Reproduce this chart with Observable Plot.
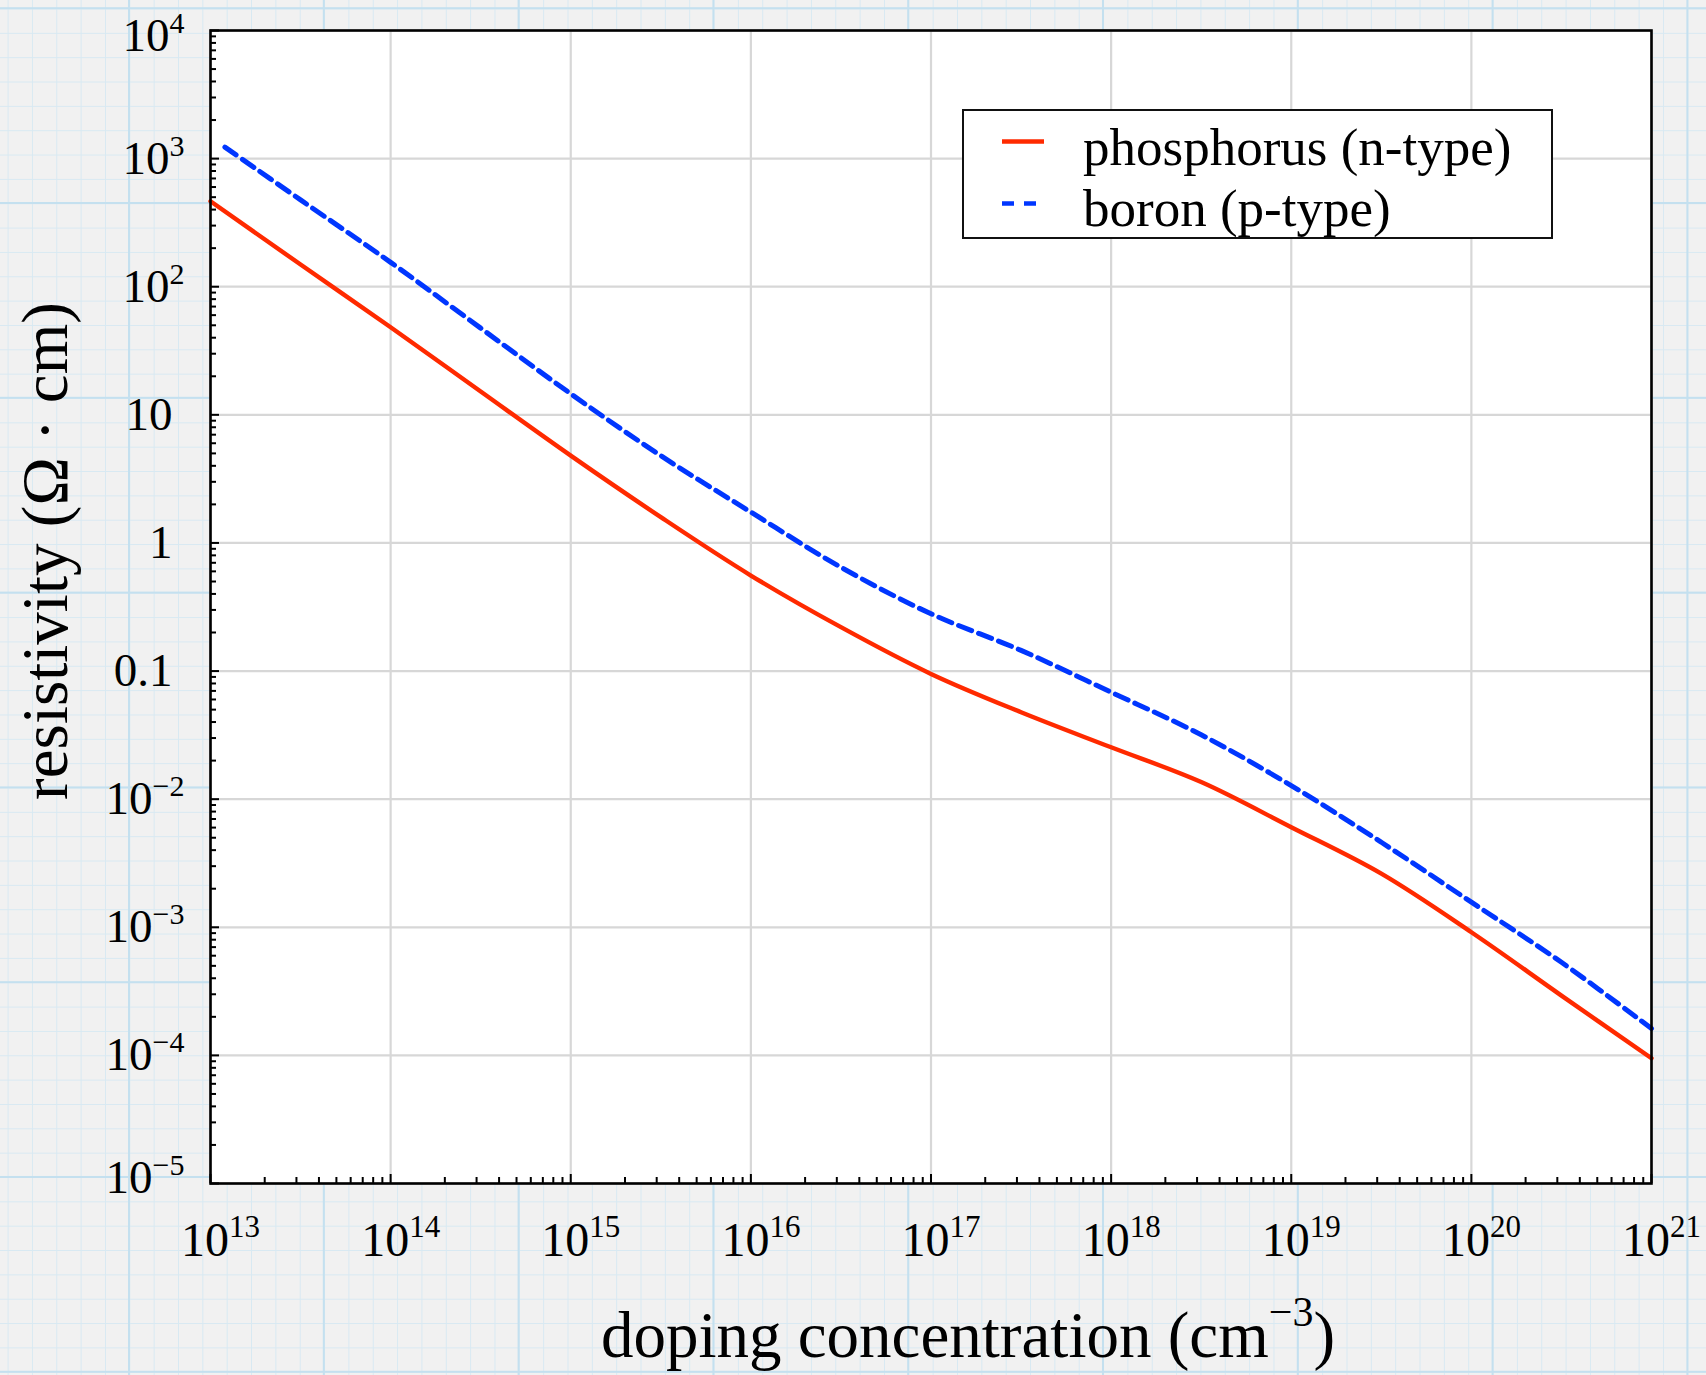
<!DOCTYPE html>
<html>
<head>
<meta charset="utf-8">
<script src="https://cdn.jsdelivr.net/npm/d3@7"></script>
<script src="https://cdn.jsdelivr.net/npm/@observablehq/plot@0.6"></script>
<style>
  html, body { margin: 0; padding: 0; }
  body {
    width: 1706px; height: 1375px; position: relative; overflow: hidden;
    background-color: #f1f1f1;
    background-image:
      linear-gradient(to right, #c4e0ef 2px, transparent 2px),
      linear-gradient(to bottom, #c4e0ef 2px, transparent 2px),
      linear-gradient(to right, #d8e9f2 1px, transparent 1px),
      linear-gradient(to bottom, #d8e9f2 1px, transparent 1px);
    background-size: 194.8px 194.8px, 194.8px 194.8px, 24.35px 24.35px, 24.35px 24.35px;
    background-position: 128px 0, 0 202px, 7.6px 0, 0 8.5px;
  }
  #chart { position: absolute; left: 0; top: 0; }
  #legend { position: absolute; left: 0; top: 0; pointer-events: none; }
</style>
</head>
<body>
<div id="chart"></div>
<script>
// ---------- data ----------
const xTicks = [1e13, 1e14, 1e15, 1e16, 1e17, 1e18, 1e19, 1e20, 1e21];
const xTickLabels = ["10^13", "10^14", "10^15", "10^16", "10^17", "10^18", "10^19", "10^20", "10^21"];
const yTicks = [1e-5, 1e-4, 1e-3, 1e-2, 1e-1, 1, 10, 1e2, 1e3, 1e4];
const yTickLabels = ["10^−5", "10^−4", "10^−3", "10^−2", "0.1", "1", "10", "10^2", "10^3", "10^4"];

const seriesNames = ["phosphorus (n-type)", "boron (p-type)"];
const seriesColors = ["#ff2a00", "#0036ff"];

// log10 of doping concentration (cm^-3)
const phosphorusLogN = [13, 13.5, 14, 14.5, 15, 15.5, 16, 16.5, 17, 17.5, 18, 18.5, 19, 19.5, 20, 20.5, 21];
// resistivity (Ohm cm)
const phosphorusRho = [465, 149, 48.3, 15.2, 4.8, 1.59, 0.557, 0.22, 0.095, 0.0477, 0.0254, 0.0136, 0.00604, 0.00262, 0.000914, 0.000293, 0.000095];

const boronLogN = [13.08, 13.5, 14, 14.5, 15, 15.5, 16, 16.5, 17, 17.5, 18, 18.5, 19, 19.5, 20, 20.5, 21];
const boronRho = [1230, 476, 155, 47.5, 14.6, 4.8, 1.74, 0.646, 0.28, 0.145, 0.0684, 0.0318, 0.01276, 0.00461, 0.00157, 0.000533, 0.000162];

const xLabel = "doping concentration (cm^−3)";
const yLabel = "resistivity (Ω · cm)";

// ---------- derived tables ----------
const phosphorus = phosphorusLogN.map((l, i) => ({N: Math.pow(10, l), rho: phosphorusRho[i]}));
const boron = boronLogN.map((l, i) => ({N: Math.pow(10, l), rho: boronRho[i]}));
const minorOf = (majors) => majors.slice(0, -1).flatMap(m => [2,3,4,5,6,7,8,9].map(k => k * m));
const xMinor = minorOf(xTicks);
const yMinor = minorOf(yTicks);

const W = 1706, H = 1375;
const mL = 210, mR = 55, mT = 30, mB = 192;
const innerW = W - mL - mR, innerH = H - mT - mB;

const chart = Plot.plot({
  width: W, height: H,
  marginLeft: mL, marginRight: mR, marginTop: mT, marginBottom: mB,
  style: {background: "transparent", fontFamily: "'Liberation Serif', 'Times New Roman', serif", fontSize: "47px", color: "black", overflow: "visible"},
  x: {type: "log", domain: [1e13, 1e21]},
  y: {type: "log", domain: [1e-5, 1e4]},
  marks: [
    Plot.frame({fill: "white", stroke: null}),
    Plot.ruleX(xTicks, {x: d => d, stroke: "#d7d7d7", strokeWidth: 2.2}),
    Plot.ruleY(yTicks, {y: d => d, stroke: "#d7d7d7", strokeWidth: 2.2}),
    Plot.line(phosphorus, {x: "N", y: "rho", stroke: seriesColors[0], strokeWidth: 4.4, curve: "catmull-rom"}),
    Plot.line(boron, {x: "N", y: "rho", stroke: seriesColors[1], strokeWidth: 5, strokeDasharray: "14,7.4", curve: "catmull-rom"}),
    // inward ticks
    Plot.tickY(yMinor, {y: d => d, stroke: "black", strokeWidth: 2, insetRight: innerW - 6}),
    Plot.tickY(yTicks, {y: d => d, stroke: "black", strokeWidth: 2, insetRight: innerW - 9}),
    Plot.tickX(xMinor, {x: d => d, stroke: "black", strokeWidth: 2, insetTop: innerH - 6}),
    Plot.tickX(xTicks, {x: d => d, stroke: "black", strokeWidth: 2, insetTop: innerH - 9}),
    Plot.frame({stroke: "black", strokeWidth: 2.6}),
    Plot.axisY(yTicks, {anchor: "left", tickSize: 0, tickPadding: 26, fontSize: 47, label: null,
      tickFormat: d => yTickLabels[yTicks.indexOf(d)]}),
    Plot.axisX(xTicks, {anchor: "bottom", tickSize: 0, tickPadding: 38, fontSize: 48, label: null, dx: 10,
      tickFormat: d => xTickLabels[xTicks.indexOf(d)]}),
    Plot.text([xLabel], {text: d => d, frameAnchor: "bottom", textAnchor: "middle", dx: 37, dy: 153, fontSize: 65, lineAnchor: "middle"}),
    Plot.text([yLabel], {text: d => d, frameAnchor: "left", textAnchor: "middle", rotate: -90, dx: -164, dy: -56, fontSize: 65, lineAnchor: "middle"})
  ]
});
document.getElementById("chart").appendChild(chart);

// ---------- superscripts ----------
const NS = "http://www.w3.org/2000/svg";
function rich(el, supSize, shift, firstDy) {
  const s = el.textContent;
  const m = s.match(/^(.*?)\^([−\-0-9]+)(.*)$/);
  if (!m) return false;
  el.textContent = "";
  const a = document.createElementNS(NS, "tspan"); a.textContent = m[1];
  if (firstDy) a.setAttribute("dy", firstDy);
  el.appendChild(a);
  const b = document.createElementNS(NS, "tspan"); b.textContent = m[2];
  b.setAttribute("font-size", supSize); b.setAttribute("dy", -shift); el.appendChild(b);
  if (m[3]) {
    const c = document.createElementNS(NS, "tspan"); c.textContent = m[3];
    c.setAttribute("dy", shift); el.appendChild(c);
  }
  return true;
}
const yLabelsEls = Array.from(chart.querySelectorAll('g[aria-label="y-axis tick label"] text'));
yLabelsEls.forEach(t => {
  const s = t.textContent;
  const edge = s === yTickLabels[0] ? -6 : s === yTickLabels[yTickLabels.length - 1] ? 5 : 0;
  if (!rich(t, 30, 18, edge)) t.setAttribute("dx", -12);
});
chart.querySelectorAll('g[aria-label="x-axis tick label"] text').forEach(t => rich(t, 31, 19, 0));
chart.querySelectorAll('g[aria-label="text"] text').forEach(t => rich(t, 42, 31, 0));

// ---------- legend (inside plot, top right) ----------
const lg = d3.select("body").append("svg").attr("id", "legend").attr("width", W).attr("height", H)
  .style("font-family", "'Liberation Serif', 'Times New Roman', serif");
lg.append("rect").attr("x", 963).attr("y", 110).attr("width", 589).attr("height", 128)
  .attr("fill", "white").attr("stroke", "#111").attr("stroke-width", 2);
const rows = [
  {y: 141.5, base: 165, dash: null},
  {y: 203.5, base: 226, dash: "12,10"}
];
rows.forEach((r, i) => {
  lg.append("line").attr("x1", 1002).attr("x2", 1044).attr("y1", r.y).attr("y2", r.y)
    .attr("stroke", seriesColors[i]).attr("stroke-width", 4.5)
    .attr("stroke-dasharray", r.dash);
  lg.append("text").attr("x", 1083).attr("y", r.base).attr("font-size", 53).attr("fill", "black")
    .text(seriesNames[i]);
});
</script>
</body>
</html>
